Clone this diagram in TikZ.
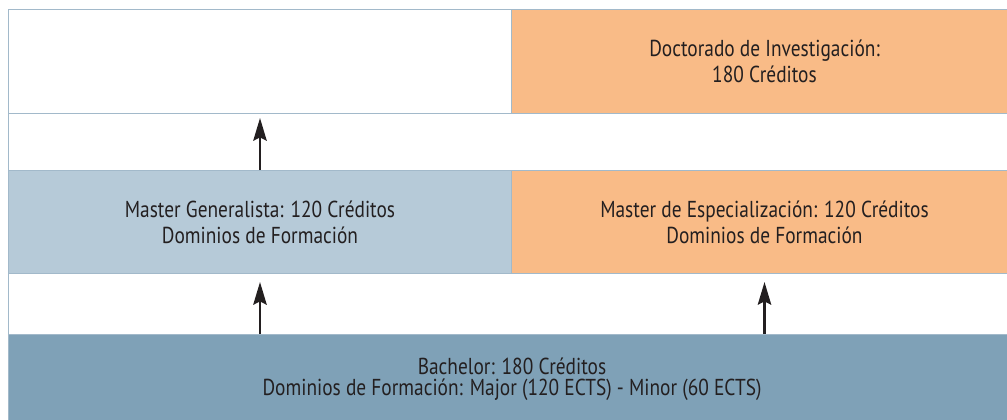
\documentclass[tikz,border=0pt]{standalone}
\usepackage{fontspec}
\setmainfont{PT Sans}[FakeStretch=0.84]
\usepackage{tikz}
\usetikzlibrary{arrows.meta}

\definecolor{peach}{HTML}{F9BB87}
\definecolor{paleblue}{HTML}{B6CAD8}
\definecolor{steelblue}{HTML}{7FA1B7}
\definecolor{framec}{HTML}{A2B9CA}
\definecolor{inkc}{HTML}{231F20}

\tikzset{
  cell/.style={draw=framec, line width=0.75pt, inner sep=0pt, anchor=north west,
    align=center, text=inkc, font=\fontsize{17.3}{19.5}\selectfont},
  up/.style={line width=2pt, draw=inkc, -{Stealth[length=17pt,width=10pt,inset=2.5pt]}}
}

\begin{document}
\begin{tikzpicture}[x=0.75pt, y=-0.75pt]
      \useasboundingbox (0,0) rectangle (1007,419);
      \clip (0,0) rectangle (1007,419);
      % bands between the rows
      \node[cell, minimum width={1009*0.75pt}, minimum height={57*0.75pt}] (gapa) at (8,113) {};
      \node[cell, minimum width={1009*0.75pt}, minimum height={61*0.75pt}] (gapb) at (8,273) {};
      % rows
      \node[cell, minimum width={503*0.75pt}, minimum height={104*0.75pt}] (blank) at (8,9) {};
      \node[cell, fill=peach, minimum width={506*0.75pt}, minimum height={104*0.75pt}] (doct) at (511,9)
        {Doctorado de Investigación:\\180 Créditos};
      \node[cell, fill=paleblue, minimum width={503*0.75pt}, minimum height={103*0.75pt}] (mgen) at (8,170)
        {\raisebox{-4pt}{\parbox{9cm}{\centering Master Generalista: 120 Créditos\\Dominios de Formación}}};
      \node[cell, fill=peach, minimum width={506*0.75pt}, minimum height={103*0.75pt}] (mesp) at (511,170)
        {Master de Especialización: 120 Créditos\\Dominios de Formación};
      \node[cell, fill=steelblue, minimum width={1009*0.75pt}, minimum height={90*0.75pt}] (bach) at (8,334) {};
      \node[text=inkc, align=center, font=\fontsize{17.3}{15.5}\selectfont, inner sep=0pt]
        (bachtxt) at (512,379) {Bachelor: 180 Créditos\\Dominios de Formación: Major (120 ECTS) - Minor (60 ECTS)};
      % arrows
      \draw[up] (mgen.north) -- (blank.south) [shorten >=3pt];
      \draw[up, shorten >=6pt] (mgen.south |- bach.north) -- (mgen.south);
      \draw[up, shorten >=6pt] (mesp.south |- bach.north) -- (mesp.south);
\end{tikzpicture}
\end{document}
